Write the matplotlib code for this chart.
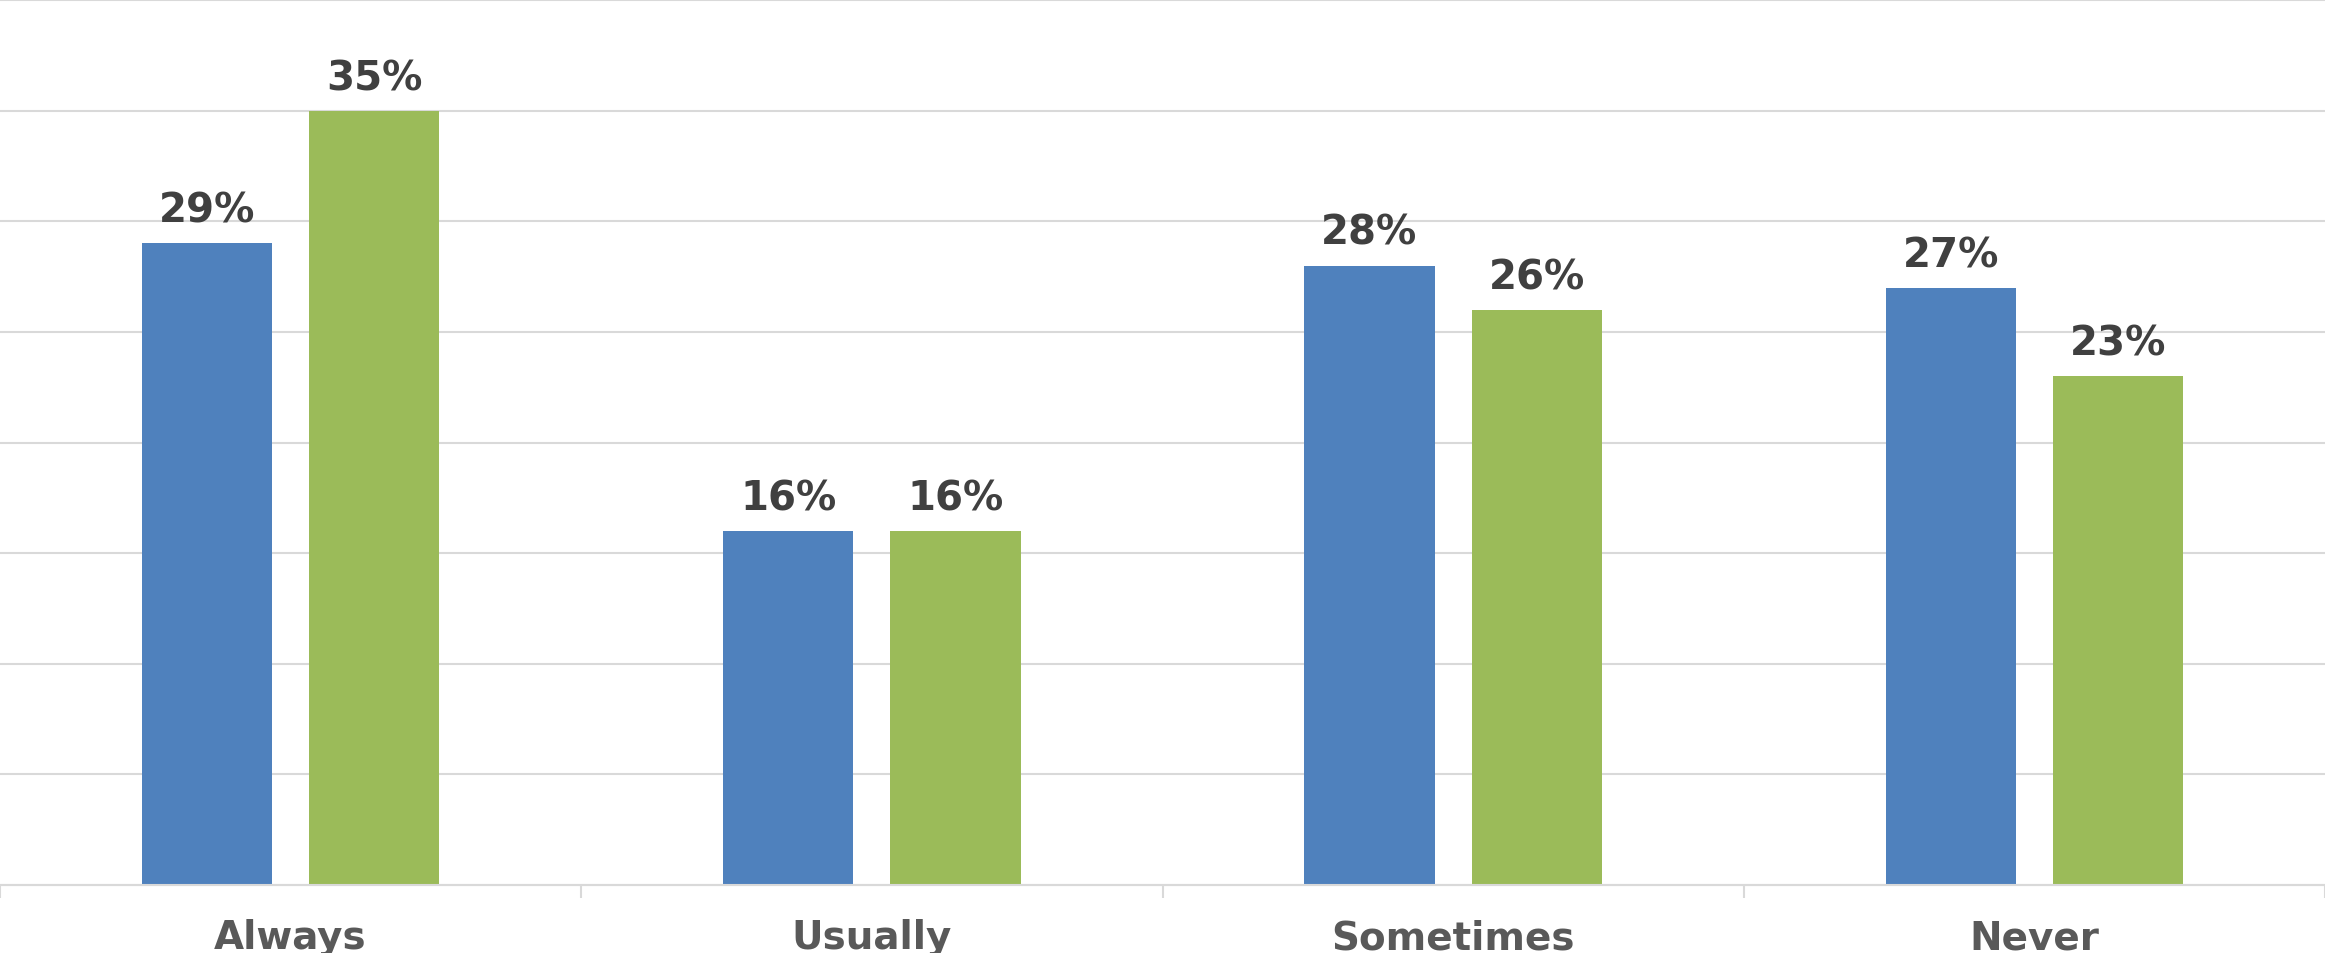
import matplotlib
matplotlib.use("Agg")
import matplotlib.pyplot as plt
import numpy as np

categories = ["Always", "Usually", "Sometimes", "Never"]
series_blue = [29, 16, 28, 27]
series_green = [35, 16, 26, 23]

BLUE = "#4F81BD"
GREEN = "#9BBB59"
GRID = "#D9D9D9"

W, H, DPI = 2325, 954, 100
fig = plt.figure(figsize=(W / DPI, H / DPI), dpi=DPI)
bottom = (954 - 886) / 954
top = (954 - 1) / 954
ax = fig.add_axes([0, bottom, 1, top - bottom])

x = np.arange(len(categories))
bw = 0.224
off = 0.144
b1 = ax.bar(x - off, series_blue, width=bw, color=BLUE, zorder=3)
b2 = ax.bar(x + off, series_green, width=bw, color=GREEN, zorder=3)

for bars, vals in ((b1, series_blue), (b2, series_green)):
    for rect, v in zip(bars, vals):
        ax.annotate(f"{v}%", (rect.get_x() + rect.get_width() / 2, v),
                    xytext=(0, 9), textcoords="offset points",
                    ha="center", va="bottom", fontsize=29, fontweight="bold",
                    color="#404040", zorder=4)

ax.set_xlim(-0.5, -0.5 + 2325 / 583)
ax.set_ylim(0, 40)
ax.set_yticks(np.arange(0, 41, 5))
ax.yaxis.grid(True, color=GRID, linewidth=1.5, zorder=0)
for gl in ax.get_ygridlines():
    gl.set_clip_on(False)
ax.tick_params(axis="y", left=False, labelleft=False)

ax.set_xticks(x)
ax.set_xticklabels(categories, fontsize=28, fontweight="bold", color="#595959")
ax.tick_params(axis="x", which="major", length=0, pad=24)
ax.set_xticks(np.arange(-0.5, 4.0, 1.0), minor=True)
ax.tick_params(axis="x", which="minor", length=9, width=1.5, color=GRID, direction="out")

for s in ("top", "left", "right"):
    ax.spines[s].set_visible(False)
ax.spines["bottom"].set_color(GRID)
ax.spines["bottom"].set_linewidth(1.5)
ax.spines["bottom"].set_zorder(5)

fig.savefig("out.png", dpi=DPI)
